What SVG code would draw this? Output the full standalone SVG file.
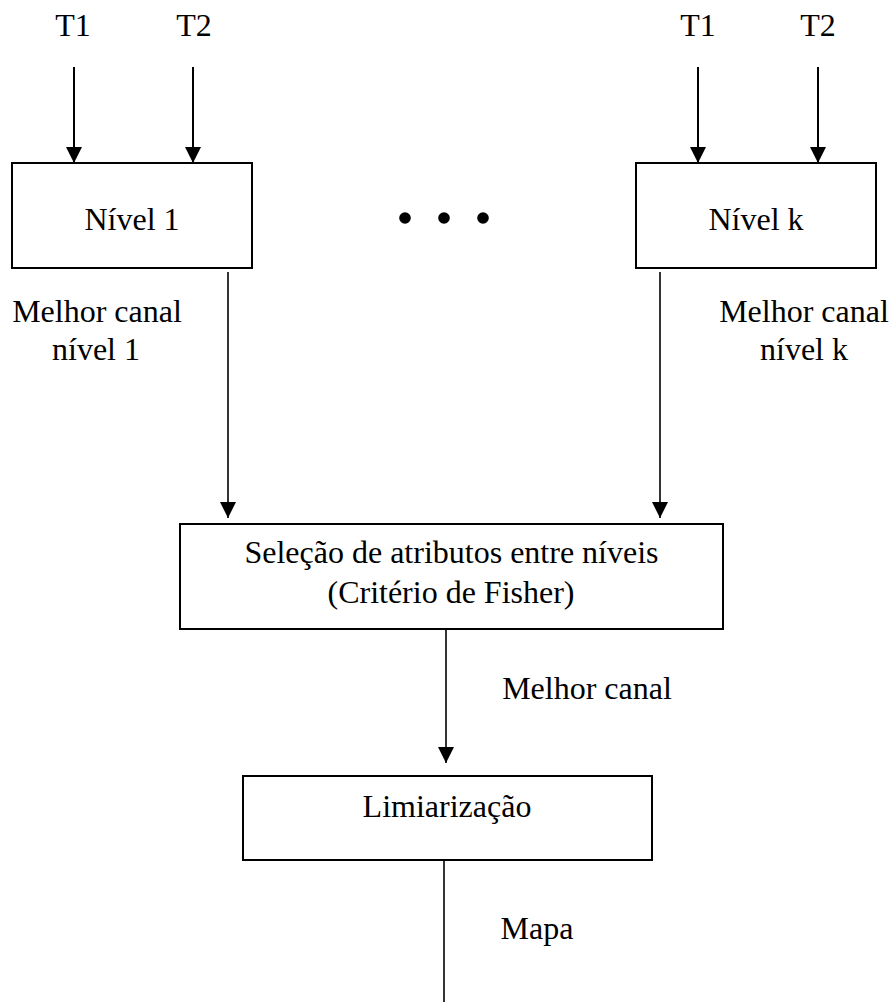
<svg xmlns="http://www.w3.org/2000/svg" width="894" height="1002" viewBox="0 0 894 1002">
<style>
text{font-family:"Liberation Serif","Times New Roman",serif;font-size:32px;fill:#000;text-anchor:middle}
.box{fill:#fff;stroke:#000;stroke-width:2}
.c{stroke:#000;stroke-width:1.6;fill:none}
.ct{stroke:#000;stroke-width:2;fill:none}
</style>
<defs>
<marker id="ah" markerUnits="userSpaceOnUse" markerWidth="16" markerHeight="16" viewBox="0 0 15 15" refX="15" refY="7.5" orient="auto">
<path d="M0,0 L15,7.5 L0,15 z" fill="#000"/>
</marker>
</defs>
<g id="labels">
<text x="73" y="36">T1</text>
<text x="194" y="36">T2</text>
<text x="698" y="36">T1</text>
<text x="818" y="36">T2</text>
<text x="97" y="322">Melhor canal</text>
<text x="96" y="360">nível 1</text>
<text x="804" y="322">Melhor canal</text>
<text x="804" y="360">nível k</text>
<text x="587" y="699">Melhor canal</text>
<text x="537" y="939">Mapa</text>
</g>
<g id="connectors">
<line class="ct" x1="74" y1="67" x2="74" y2="163" marker-end="url(#ah)"/>
<line class="ct" x1="193" y1="67" x2="193" y2="163" marker-end="url(#ah)"/>
<line class="ct" x1="698" y1="67" x2="698" y2="163" marker-end="url(#ah)"/>
<line class="ct" x1="818" y1="67" x2="818" y2="163" marker-end="url(#ah)"/>
<line class="c" x1="228" y1="272" x2="228" y2="518" marker-end="url(#ah)"/>
<line class="c" x1="660" y1="272" x2="660" y2="518" marker-end="url(#ah)"/>
<line class="c" x1="446" y1="629" x2="446" y2="763" marker-end="url(#ah)"/>
<line class="c" x1="444" y1="860" x2="444" y2="1002"/>
</g>
<g id="nivel1">
<rect class="box" x="12" y="163" width="240" height="105"/>
<text x="132" y="230">Nível 1</text>
</g>
<g id="dots">
<circle cx="405" cy="218" r="5.8"/>
<circle cx="444" cy="218" r="5.8"/>
<circle cx="483" cy="218" r="5.8"/>
</g>
<g id="nivelk">
<rect class="box" x="636" y="163" width="240" height="105"/>
<text x="756" y="230">Nível k</text>
</g>
<g id="selecao">
<rect class="box" x="180" y="524" width="543" height="105"/>
<text x="451.5" y="563">Seleção de atributos entre níveis</text>
<text x="451" y="603">(Critério de Fisher)</text>
</g>
<g id="limiarizacao">
<rect class="box" x="243" y="776" width="409" height="84"/>
<text x="447" y="817">Limiarização</text>
</g>
</svg>
